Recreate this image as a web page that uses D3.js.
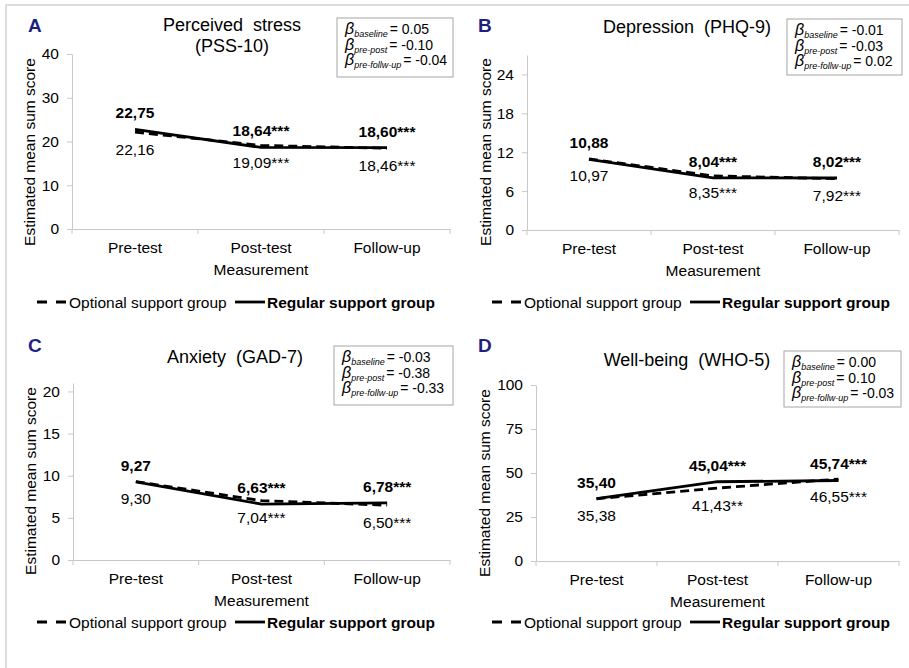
<!DOCTYPE html>
<html>
<head>
<meta charset="utf-8">
<script src="https://cdn.jsdelivr.net/npm/d3@7"></script>
<style>
  body { margin: 0; background: #fff; }
  svg { display: block; font-family: "Liberation Sans", Arial, sans-serif; }
</style>
</head>
<body>
<div id="chart"></div>
<script>
{
const width = 909;
const height = 668;

// data
const measurements = ['Pre-test', 'Post-test', 'Follow-up'];
const panelLetters = ['A', 'B', 'C', 'D'];
const panelTitles = [
    ['Perceived\u00a0 stress', '(PSS-10)'],
    ['Depression\u00a0 (PHQ-9)'],
    ['Anxiety\u00a0 (GAD-7)'],
    ['Well-being\u00a0 (WHO-5)']
];
const regularValues = [
    [22.75, 18.64, 18.60],
    [10.88, 8.04, 8.02],
    [9.27, 6.63, 6.78],
    [35.40, 45.04, 45.74]
];
const optionalValues = [
    [22.16, 19.09, 18.46],
    [10.97, 8.35, 7.92],
    [9.30, 7.04, 6.50],
    [35.38, 41.43, 46.55]
];
const regularSig = [
    ['', '***', '***'],
    ['', '***', '***'],
    ['', '***', '***'],
    ['', '***', '***']
];
const optionalSig = [
    ['', '***', '***'],
    ['', '***', '***'],
    ['', '***', '***'],
    ['', '**', '***']
];
const yMax = [40, 27, 21, 100];
const yTicks = [
    [0, 10, 20, 30, 40],
    [0, 6, 12, 18, 24],
    [0, 5, 10, 15, 20],
    [0, 25, 50, 75, 100]
];
const betaLabels = ['baseline', 'pre-post', 'pre-follw-up'];
const betaValues = [
    ['0.05', '-0.10', '-0.04'],
    ['-0.01', '-0.03', '0.02'],
    ['-0.03', '-0.38', '-0.33'],
    ['0.00', '0.10', '-0.03']
];
const legendLabels = ['Optional support group', 'Regular support group'];

// layout of the four panels
const panels = [
    {x0: 72,  x1: 450, y0: 54,  y1: 229, ox: 0,   oy: 0,   titleX: 232, titleY: 31,  box: [337, 18, 116, 59], yTitleX: 30,  yTitleY: 152},
    {x0: 527, x1: 899, y0: 55,  y1: 230, ox: 450, oy: 0,   titleX: 687, titleY: 33,  box: [787, 19, 115, 56], yTitleX: 486, yTitleY: 152},
    {x0: 73,  x1: 450, y0: 383, y1: 560, ox: 0,   oy: 320, titleX: 235, titleY: 363, box: [334, 346, 119, 59], yTitleX: 31, yTitleY: 481},
    {x0: 536, x1: 899, y0: 385, y1: 561, ox: 450, oy: 320, titleX: 687, titleY: 366, box: [784, 351, 117, 56], yTitleX: 485, yTitleY: 483}
];

const fmt = v => d3.format('.2f')(v).replace('.', ',');

let svg = d3.select('#chart')
    .append('svg')
    .attr('width', width)
    .attr('height', height);

svg.append('rect')
    .attr('width', width)
    .attr('height', height)
    .attr('fill', '#fff');

// outer frame
svg.append('path')
    .attr('d', `M6,${height} L6,5 L${width},5`)
    .attr('fill', 'none')
    .attr('stroke', '#dcdcdc')
    .attr('stroke-width', 2);

panels.forEach(function(p, i) {
    let g = svg.append('g');

    let x = d3.scaleBand()
        .domain(measurements)
        .range([p.x0, p.x1]);

    let y = d3.scaleLinear()
        .domain([0, yMax[i]])
        .range([p.y1, p.y0]);

    // y axis
    let yAxis = g.append('g')
        .attr('transform', `translate(${p.x0}, 0)`)
        .call(d3.axisLeft(y).tickValues(yTicks[i]).tickSize(5).tickSizeOuter(0).tickPadding(8));
    yAxis.select('.domain').attr('stroke', '#c8c8c8');
    yAxis.selectAll('.tick line').attr('stroke', '#c8c8c8');
    yAxis.selectAll('.tick text')
        .style('font-size', '15.5px')
        .style('font-family', '"Liberation Sans", Arial, sans-serif')
        .attr('fill', '#000');

    // x axis
    let xAxis = g.append('g')
        .attr('transform', `translate(0, ${p.y1})`)
        .call(d3.axisBottom(x).tickSize(0).tickSizeOuter(0).tickPadding(13));
    xAxis.select('.domain').attr('stroke', '#c8c8c8');
    xAxis.selectAll('.tick text')
        .style('font-size', '15.5px')
        .style('font-family', '"Liberation Sans", Arial, sans-serif')
        .attr('fill', '#000');

    let edges = measurements.map(d => x(d)).concat([p.x1]);
    g.selectAll('.xedge').data(edges).enter().append('line')
        .attr('class', 'xedge')
        .attr('x1', d => d).attr('x2', d => d)
        .attr('y1', p.y1).attr('y2', p.y1 + 5)
        .attr('stroke', '#c8c8c8');

    g.append('text')
        .attr('x', (p.x0 + p.x1) / 2)
        .attr('y', p.y1 + 46)
        .style('text-anchor', 'middle')
        .style('font-size', '15.5px')
        .text('Measurement');

    g.append('text')
        .attr('transform', `translate(${p.yTitleX + 5}, ${p.yTitleY}) rotate(-90)`)
        .style('text-anchor', 'middle')
        .style('font-size', '15.5px')
        .text('Estimated mean sum score');

    // panel letter
    g.append('text')
        .attr('x', p.ox + 28)
        .attr('y', p.oy + 32)
        .style('font-size', '19px')
        .style('font-weight', 'bold')
        .attr('fill', '#1f1f82')
        .text(panelLetters[i]);

    // title
    panelTitles[i].forEach(function(t, k) {
        g.append('text')
            .attr('x', p.titleX)
            .attr('y', p.titleY + k * 21)
            .style('text-anchor', 'middle')
            .style('font-size', '18px')
            .text(t);
    });

    // beta box
    g.append('rect')
        .attr('x', p.box[0]).attr('y', p.box[1])
        .attr('width', p.box[2]).attr('height', p.box[3])
        .attr('fill', '#fff')
        .attr('stroke', '#a6a6a6');

    betaLabels.forEach(function(b, k) {
        let t = g.append('text')
            .attr('x', p.box[0] + 8)
            .attr('y', p.box[1] + 16 + k * 15.5);
        t.append('tspan').style('font-style', 'italic').style('font-size', '16px').text('\u03b2');
        t.append('tspan').style('font-style', 'italic').style('font-size', '9px').attr('dy', 3).text(b);
        t.append('tspan').style('font-size', '14px').attr('dy', -3).attr('dx', 2).text('= ' + betaValues[i][k]);
    });

    // lines
    let cx = d => x(d) + x.bandwidth() / 2;
    let line = d3.line()
        .x(d => cx(d.m))
        .y(d => y(d.v));

    let opt = measurements.map((m, k) => ({m: m, v: optionalValues[i][k]}));
    let reg = measurements.map((m, k) => ({m: m, v: regularValues[i][k]}));

    g.append('path')
        .datum(opt)
        .attr('d', line)
        .attr('fill', 'none')
        .attr('stroke', '#000')
        .attr('stroke-width', 2.8)
        .attr('stroke-dasharray', '9,5');

    g.append('path')
        .datum(reg)
        .attr('d', line)
        .attr('fill', 'none')
        .attr('stroke', '#000')
        .attr('stroke-width', 2.8);

    // value labels
    g.selectAll('.reglab').data(reg).enter().append('text')
        .attr('class', 'reglab')
        .attr('x', d => cx(d.m))
        .attr('y', d => y(d.v) - 11)
        .style('text-anchor', 'middle')
        .style('font-size', '15.5px')
        .style('font-weight', 'bold')
        .text((d, k) => fmt(d.v) + regularSig[i][k]);

    g.selectAll('.optlab').data(opt).enter().append('text')
        .attr('class', 'optlab')
        .attr('x', d => cx(d.m))
        .attr('y', d => y(d.v) + 22.5)
        .style('text-anchor', 'middle')
        .style('font-size', '15.5px')
        .text((d, k) => fmt(d.v) + optionalSig[i][k]);

    // legend
    let ly = p.oy + 302;
    let lg = g.append('g');
    let l0 = p.ox + (i % 2 === 0 ? 37 : 42);
    lg.append('line')
        .attr('x1', l0).attr('x2', l0 + 29)
        .attr('y1', ly).attr('y2', ly)
        .attr('stroke', '#000').attr('stroke-width', 2.8)
        .attr('stroke-dasharray', '10,9');
    lg.append('text')
        .attr('x', l0 + 32).attr('y', ly + 5.5)
        .style('font-size', '15.5px')
        .text(legendLabels[0]);
    lg.append('line')
        .attr('x1', l0 + 198).attr('x2', l0 + 228)
        .attr('y1', ly).attr('y2', ly)
        .attr('stroke', '#000').attr('stroke-width', 2.8);
    lg.append('text')
        .attr('x', l0 + 230).attr('y', ly + 5.5)
        .style('font-size', '15.5px')
        .style('font-weight', 'bold')
        .text(legendLabels[1]);
});
}
</script>
</body>
</html>
